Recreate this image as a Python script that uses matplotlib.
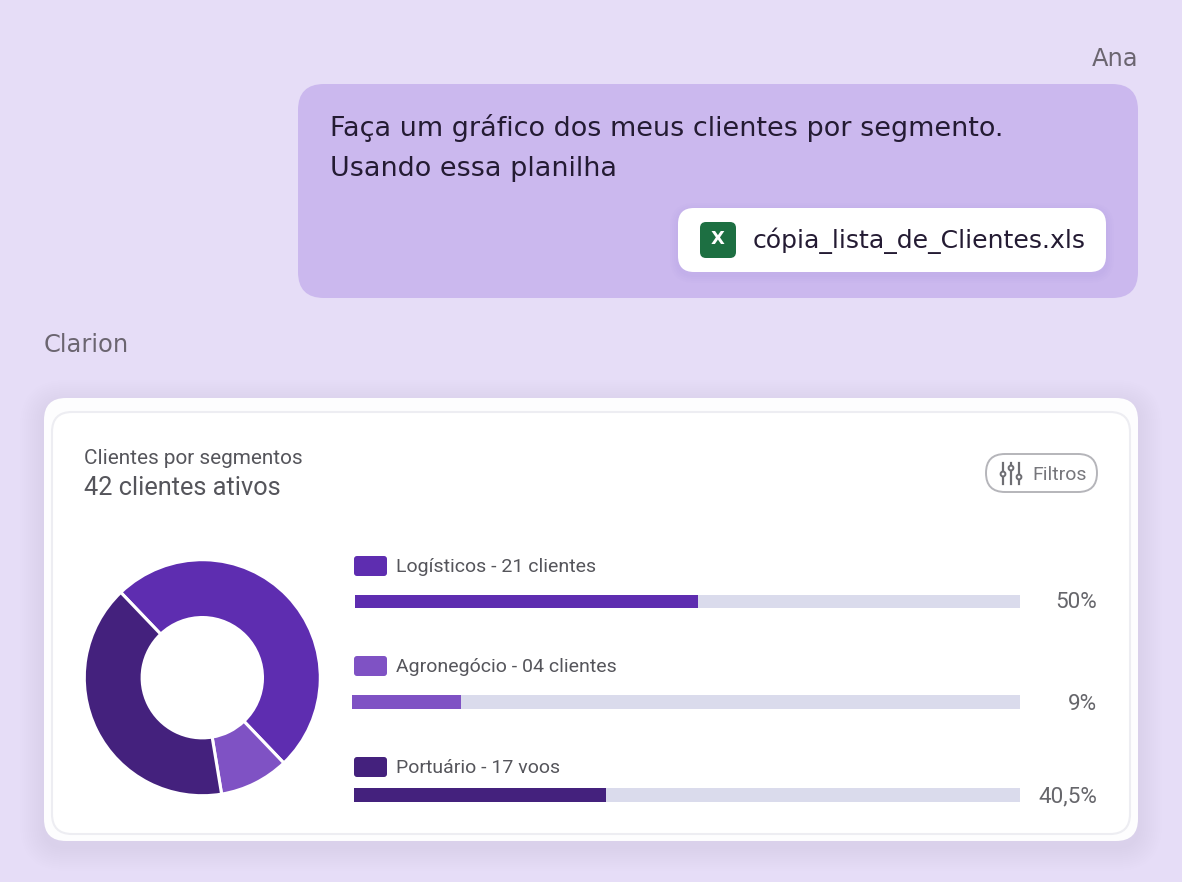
import matplotlib
matplotlib.use("Agg")
import matplotlib.pyplot as plt
from matplotlib.patches import FancyBboxPatch, Circle

W, H = 1182, 882

# data
segments = ["Logísticos - 21 clientes", "Agronegócio - 04 clientes", "Portuário - 17 voos"]
clients = [21, 4, 17]
pct_labels = ["50%", "9%", "40,5%"]
bar_fill = [0.516, 0.165, 0.380]      # filled share of each track, as drawn
bar_start = [0.0, -0.005, -0.002]
colors = ["#5E2DB0", "#7F52C4", "#44217D"]
track = "#DADBEC"

fig = plt.figure(figsize=(W / 100, H / 100), dpi=100, facecolor="#E6DDF7")
bg = fig.add_axes([0, 0, 1, 1])
bg.set_xlim(0, W)
bg.set_ylim(H, 0)
bg.axis("off")


def rrect(x0, y0, x1, y1, r, fc, ec="none", lw=0, alpha=None, z=1):
    p = FancyBboxPatch((x0 + r, y0 + r), x1 - x0 - 2 * r, y1 - y0 - 2 * r,
                       boxstyle=f"round,pad={r},rounding_size={r}",
                       fc=fc, ec=ec, lw=lw, alpha=alpha, zorder=z)
    bg.add_patch(p)
    return p


def shadow(x0, y0, x1, y1, r, spread, dy, a, z):
    for i in range(spread, 0, -2):
        rrect(x0 - i, y0 - i + dy, x1 + i, y1 + i + dy, r + i, "#5B3FA0", alpha=a, z=z)


def px_axes(x0, y0, x1, y1):
    return fig.add_axes([x0 / W, 1 - y1 / H, (x1 - x0) / W, (y1 - y0) / H])


CHAT = "DejaVu Sans"
CARD = "Roboto"

# chat
bg.text(1138, 59, "Ana", ha="right", va="center", fontsize=17.4, color="#6B6570", family=CHAT)
rrect(298, 84, 1138, 298, 26, "#CBB8EE", z=2)
bg.text(330, 128, "Faça um gráfico dos meus clientes por segmento.", fontsize=19.45,
        va="center", color="#241B33", family=CHAT, zorder=3)
bg.text(330, 168.5, "Usando essa planilha", fontsize=19.45, va="center", color="#241B33",
        family=CHAT, zorder=3)
shadow(678, 208, 1106, 272, 16, 8, 3, 0.012, 3)
rrect(678, 208, 1106, 272, 16, "white", z=4)
rrect(700, 222, 736, 258, 6, "#1D6F42", z=5)
bg.text(718, 238.5, "X", ha="center", va="center", fontsize=13, weight="bold", color="white",
        family=CHAT, zorder=6)
bg.text(752.5, 241, "cópia_lista_de_Clientes.xls", fontsize=18.1, va="center", color="#241B33",
        family=CHAT, zorder=6)
bg.text(44, 345, "Clarion", fontsize=17.4, va="center", color="#6B6570", family=CHAT)

# card
shadow(44, 398, 1138, 841, 22, 24, 6, 0.0022, 2)
rrect(44, 398, 1138, 841, 22, "#FDFDFE", z=3)
rrect(52, 412, 1130, 834, 20, "white", ec="#EDEDF2", lw=1.5, z=4)

bg.text(84, 459, "Clientes por segmentos", fontsize=14.95, va="center", color="#55555B",
        family=CARD, zorder=5)
bg.text(84, 488, "42 clientes ativos", fontsize=18.3, va="center", color="#55555B",
        family=CARD, zorder=5)

# filter button
rrect(986, 454, 1097, 492, 19, "white", ec="#B5B5BA", lw=1.4, z=5)
for lx, ky in ((1003, 474), (1011, 468), (1019, 477)):
    bg.plot([lx, lx], [463, 484], color="#6E6E73", lw=1.6, zorder=6)
    bg.add_patch(Circle((lx, ky), 2.4, fc="white", ec="#6E6E73", lw=1.4, zorder=7))
bg.text(1032, 474.5, "Filtros", fontsize=14, va="center", color="#77777C", family=CARD, zorder=6)

# legend rows
for name, col, ky in zip(segments, colors, (566, 666, 767)):
    rrect(354, ky - 10, 387, ky + 10, 3, col, z=5)
    bg.text(396, ky + 1, name, fontsize=14, va="center", color="#55555B", family=CARD, zorder=5)
for lab, py in zip(pct_labels, (602, 703, 796)):
    bg.text(1097, py + 1, lab, fontsize=16.2, ha="right", va="center", color="#66666B",
            family=CARD, zorder=5)

# donut
axp = px_axes(84.3, 559.7, 320.3, 795.7)
axp.pie(clients, colors=colors, startangle=133.7, counterclock=False, radius=1,
        wedgeprops=dict(width=0.49, edgecolor="white", linewidth=2.2))
axp.set_xlim(-1, 1)
axp.set_ylim(-1, 1)
axp.patch.set_visible(False)
axp.axis("off")

# progress bars
axb = px_axes(355, 585, 1020, 812)
axb.set_xlim(0, 1)
axb.set_ylim(812, 585)
axb.axis("off")
row_y = [601.5, 702, 795]
row_h = [13.5, 14, 14]
axb.barh(row_y, [1, 1, 1], height=row_h, color=track, zorder=1)
axb.barh(row_y, bar_fill, left=bar_start, height=row_h, color=colors, zorder=2, clip_on=False)

fig.savefig("out.png", dpi=100, facecolor=fig.get_facecolor())
